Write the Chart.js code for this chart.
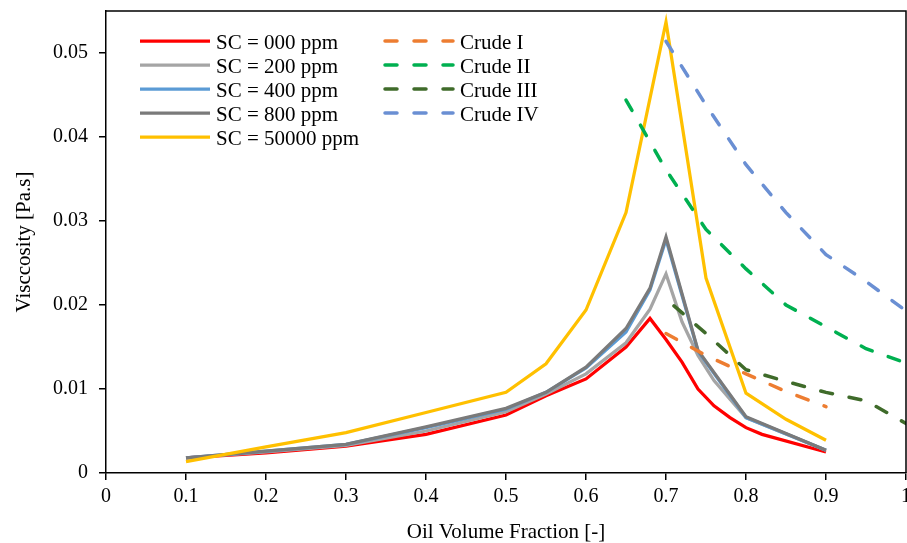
<!DOCTYPE html>
<html>
<head>
<meta charset="utf-8">
<script src="https://cdn.jsdelivr.net/npm/chart.js@4/dist/chart.umd.min.js"></script>
<style>
html,body{margin:0;padding:0;background:#fff;}
#wrap{width:907px;height:543px;position:relative;}
</style>
</head>
<body>
<div id="wrap"><canvas id="c" width="907" height="543"></canvas></div>
<script>
// ---- data ----
const seriesNames = ["SC = 000 ppm","SC = 200 ppm","SC = 400 ppm","SC = 800 ppm","SC = 50000 ppm","Crude I","Crude II","Crude III","Crude IV"];

const sc000X = [0.1,0.2,0.3,0.4,0.5,0.55,0.6,0.65,0.68,0.7,0.72,0.74,0.76,0.78,0.8,0.82,0.9];
const sc000Y = [0.0018,0.0024,0.0032,0.0046,0.0069,0.0092,0.0112,0.0150,0.0184,0.0159,0.0132,0.0100,0.0080,0.0066,0.0054,0.0046,0.0025];

const sc200X = [0.1,0.2,0.3,0.4,0.5,0.55,0.6,0.65,0.68,0.7,0.72,0.74,0.76,0.78,0.8,0.9];
const sc200Y = [0.0018,0.0025,0.0033,0.0050,0.0073,0.0094,0.0118,0.0155,0.0195,0.0237,0.0180,0.0140,0.0110,0.0088,0.0066,0.0027];

const sc400X = [0.1,0.2,0.3,0.4,0.5,0.55,0.6,0.65,0.68,0.7,0.74,0.8,0.9];
const sc400Y = [0.0018,0.0026,0.0034,0.0054,0.0076,0.0096,0.0125,0.0168,0.0218,0.0278,0.0145,0.0066,0.0027];

const sc800X = [0.1,0.2,0.3,0.4,0.5,0.55,0.6,0.65,0.68,0.7,0.74,0.8,0.9];
const sc800Y = [0.0018,0.0026,0.0034,0.0055,0.0077,0.0096,0.0126,0.0172,0.0220,0.0281,0.0146,0.0067,0.0027];

const sc50000X = [0.1,0.2,0.3,0.4,0.5,0.55,0.6,0.65,0.7,0.75,0.8,0.85,0.9];
const sc50000Y = [0.00135,0.0031,0.0048,0.0072,0.0096,0.0130,0.0194,0.0310,0.0537,0.0232,0.0095,0.0064,0.0039];

const crude1X = [0.7,0.75,0.8,0.85,0.9];
const crude1Y = [0.0166,0.0140,0.0118,0.0097,0.0079];

const crude2X = [0.65,0.7,0.75,0.8,0.85,0.9,0.95,1.0];
const crude2Y = [0.0444,0.0361,0.0290,0.0243,0.0200,0.0174,0.0148,0.0131];

const crude3X = [0.71,0.75,0.8,0.85,0.9,0.95,1.0];
const crude3Y = [0.0199,0.0166,0.0123,0.0109,0.0096,0.0086,0.0059];

const crude4X = [0.7,0.75,0.8,0.85,0.9,0.95,1.0];
const crude4Y = [0.0514,0.0438,0.0367,0.0310,0.0260,0.0228,0.0193];

const xTickLabels = ["0","0.1","0.2","0.3","0.4","0.5","0.6","0.7","0.8","0.9","1"];
const yTickLabels = ["0","0.01","0.02","0.03","0.04","0.05"];

// ---- styles ----
const colors = ["#FF0000","#A5A5A5","#5B9BD5","#7A7A7A","#FFC000","#ED7D31","#00B050","#3F6B2A","#6A8FD3"];
const dashed = [false,false,false,false,false,true,true,true,true];
const xs = [sc000X,sc200X,sc400X,sc800X,sc50000X,crude1X,crude2X,crude3X,crude4X];
const ys = [sc000Y,sc200Y,sc400Y,sc800Y,sc50000Y,crude1Y,crude2Y,crude3Y,crude4Y];
const DASH = [12,17];
const FONT = "'Liberation Serif','Times New Roman',serif";

const datasets = seriesNames.map((name,i)=>({
  label: name,
  data: xs[i].map((x,k)=>({x:x,y:ys[i][k]})),
  borderColor: colors[i],
  backgroundColor: colors[i],
  borderWidth: dashed[i] ? 3.5 : 3.25,
  borderDash: dashed[i] ? DASH : [],
  borderCapStyle: dashed[i] ? 'round' : 'butt',
  borderJoinStyle: 'miter',
  showLine: true,
  pointRadius: 0,
  pointHoverRadius: 0,
  tension: 0,
  fill: false,
  order: seriesNames.length - i
}));

const framePlugin = {
  id:'frame',
  afterDatasetsDraw(chart){
    const {ctx, chartArea:a} = chart;
    ctx.save();
    ctx.strokeStyle = '#000';
    ctx.lineWidth = 1.5;
    ctx.beginPath();
    ctx.moveTo(a.left, a.top);
    ctx.lineTo(a.right, a.top);
    ctx.lineTo(a.right, a.bottom);
    ctx.stroke();
    ctx.restore();
  }
};

const legendPlugin = {
  id:'customLegend',
  afterDraw(chart){
    const ctx = chart.ctx;
    ctx.save();
    ctx.font = "21px " + FONT;
    ctx.fillStyle = '#000';
    ctx.textBaseline = 'alphabetic';
    chart.data.datasets.forEach((ds,i)=>{
      const col = i < 5 ? 0 : 1;
      const row = i < 5 ? i : i - 5;
      const x1 = col === 0 ? 140 : 383;
      const x2 = col === 0 ? 210 : 453;
      const tx = col === 0 ? 216 : 460;
      const y = 41 + 24*row;
      ctx.save();
      ctx.strokeStyle = ds.borderColor;
      ctx.lineWidth = ds.borderWidth;
      ctx.lineCap = ds.borderCapStyle;
      ctx.setLineDash(ds.borderDash);
      ctx.beginPath();
      ctx.moveTo(x1 + (ds.borderDash.length ? 2 : 0), y);
      ctx.lineTo(x2, y);
      ctx.stroke();
      ctx.restore();
      ctx.fillText(ds.label, tx, y + 7.5);
    });
    ctx.restore();
  }
};

new Chart(document.getElementById('c'), {
  type: 'scatter',
  data: { datasets },
  plugins: [framePlugin, legendPlugin],
  options: {
    responsive: false,
    animation: false,
    events: [],
    layout: { padding: { top: 11, right: 1, left: 0, bottom: 0 } },
    plugins: { legend: { display: false }, tooltip: { enabled: false } },
    scales: {
      x: {
        type: 'linear',
        min: 0, max: 1,
        afterFit(s){ s.height = 70; s.paddingLeft = 0; s.paddingRight = 0; },
        ticks: {
          stepSize: 0.1,
          includeBounds: false,
          maxRotation: 0,
          autoSkip: false,
          padding: 5,
          color: '#000',
          font: { family: FONT, size: 20 },
          callback: (v)=> xTickLabels[Math.round(v*10)]
        },
        grid: { display: true, drawOnChartArea: false, drawTicks: true, tickLength: 7, color: '#000', lineWidth: 1.5 },
        border: { display: true, color: '#000', width: 1.5 },
        title: { display: true, text: 'Oil Volume Fraction [-]', color: '#000', font: { family: FONT, size: 21, lineHeight: 1 }, padding: { top: 0, bottom: 0 } }
      },
      y: {
        type: 'linear',
        min: 0, max: 0.055,
        afterFit(s){ s.width = 106; s.paddingTop = 0; s.paddingBottom = 0; },
        ticks: {
          stepSize: 0.01,
          includeBounds: false,
          autoSkip: false,
          padding: 11,
          color: '#000',
          font: { family: FONT, size: 20 },
          callback: (v)=> yTickLabels[Math.round(v*100)]
        },
        grid: { display: true, drawOnChartArea: false, drawTicks: true, tickLength: 7, color: '#000', lineWidth: 1.5 },
        border: { display: true, color: '#000', width: 1.5 },
        title: { display: true, text: 'Visccosity [Pa.s]', color: '#000', font: { family: FONT, size: 21, lineHeight: 1 }, padding: { top: 14, bottom: 0 } }
      }
    }
  }
});
</script>
</body>
</html>
